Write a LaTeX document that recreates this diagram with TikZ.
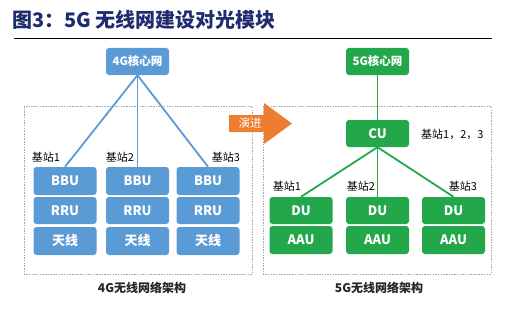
\documentclass[tikz,border=0pt]{standalone}
\usepackage{fontspec}
\setmainfont{Noto Sans CJK SC}
\usepackage{xcolor}
\usetikzlibrary{arrows.meta,positioning}
\definecolor{netblue}{HTML}{5B9BD5}
\definecolor{netgreen}{HTML}{22A84B}
\definecolor{evoorange}{HTML}{ED7D31}
\definecolor{titlenavy}{HTML}{1F2D6E}
\definecolor{framegray}{HTML}{A6A6A6}
\begin{document}
\begin{tikzpicture}[x=1pt, y=-1pt,
  every node/.style={inner sep=0pt},
  blk/.style={rounded corners=3pt, text=white, align=center, minimum width=63pt, minimum height=27pt, font=\fontsize{13}{13}\selectfont\bfseries},
  blueblk/.style={blk, fill=netblue},
  greenblk/.style={blk, fill=netgreen},
  corenet/.style={font=\fontsize{11.5}{12}\selectfont\bfseries},
  site/.style={font=\fontsize{11}{11}\selectfont},
  caption/.style={font=\fontsize{12}{12}\selectfont\bfseries, text=black!85},
  frame/.style={draw=framegray, line width=0.6pt, dash pattern=on 1.5pt off 1.2pt},
  bluelink/.style={draw=netblue, line width=1.8pt},
  greenlink/.style={draw=netgreen, line width=1.8pt}]
\useasboundingbox (0,0) rectangle (516,313);
% title
\node[anchor=west, text=titlenavy, font=\fontsize{20}{20}\selectfont\bfseries] (title) at (12,20) {图3：5G 无线网建设对光模块};
\draw[line width=1pt] (14,39) -- (492,39);
% frames
\draw[frame] (24,106) rectangle (252,274);
\draw[frame] (263,106) rectangle (491,274);
% 4G
\node[blueblk, corenet] (core4) at (137.5,61.5) {4G核心网};
\foreach \i/\x in {1/65, 2/137.5, 3/208} {
  \node[blueblk, minimum height=28pt] (bbu\i) at (\x,181) {BBU};
  \node[blueblk] (rru\i) at (\x,210.5) {RRU};
  \node[blueblk, minimum height=28pt] (ant\i) at (\x,241) {天线};
  \draw[bluelink] (core4.south) -- (bbu\i.north);
}
\node[site] (site4a) at (46,157) {基站1};
\node[site] (site4b) at (120,157) {基站2};
\node[site] (site4c) at (226,157) {基站3};
\node[caption] (cap4) at (142,288) {4G无线网络架构};
% evolution arrow
\fill[evoorange] (229,115) -- (264,115) -- (264,103) -- (292,123.5) -- (264,144) -- (264,132) -- (229,132) -- cycle;
\node[text=white, font=\fontsize{11.5}{12}\selectfont] (evo) at (250,123.5) {演进};
% 5G
\node[greenblk, corenet] (core5) at (377.5,61.5) {5G核心网};
\node[greenblk] (cu) at (377.5,133.5) {CU};
\draw[greenlink] (core5.south) -- (cu.north);
\node[site, anchor=west] (sitecu) at (421,134) {基站1，2，3};
\foreach \i/\x in {1/301, 2/377.5, 3/453.5} {
  \node[greenblk] (du\i) at (\x,210.5) {DU};
  \node[greenblk, minimum height=28pt] (aau\i) at (\x,240) {AAU};
  \draw[greenlink] (cu.south) -- (du\i.north);
}
\node[site] (site5a) at (287,186) {基站1};
\node[site] (site5b) at (361,186) {基站2};
\node[site] (site5c) at (463,186) {基站3};
\node[caption] (cap5) at (379,288) {5G无线网络架构};
\end{tikzpicture}
\end{document}
